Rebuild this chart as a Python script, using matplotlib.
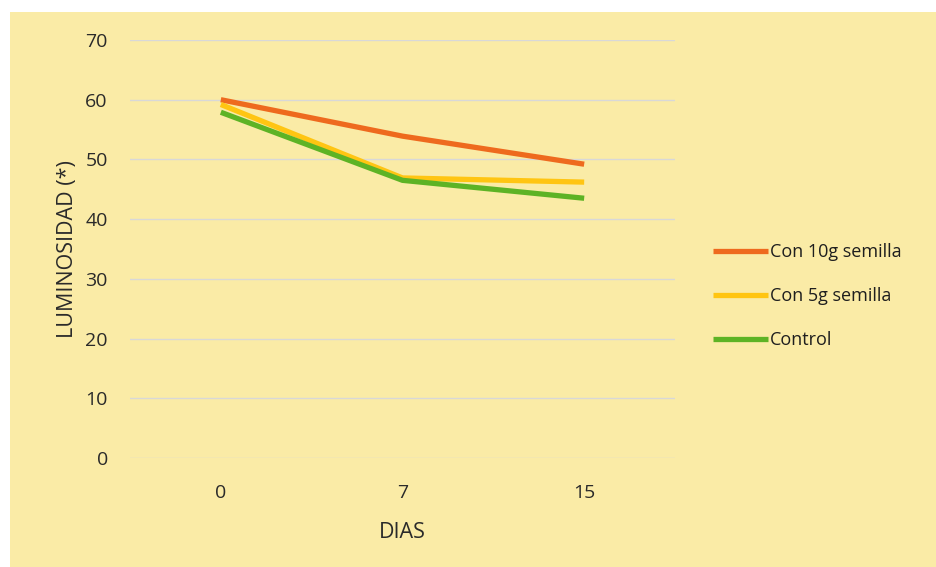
import matplotlib
matplotlib.use("Agg")
import matplotlib.pyplot as plt
from matplotlib.patches import Rectangle

days = ["0", "7", "15"]
con_10g = [60.0, 53.9, 49.2]
con_5g = [59.2, 46.9, 46.2]
control = [57.9, 46.5, 43.5]
series_names = ["Con 10g semilla", "Con 5g semilla", "Control"]
yticks = [0, 10, 20, 30, 40, 50, 60, 70]

plt.rcParams['font.family'] = ['Open Sans', 'DejaVu Sans']
txt = '#2a2a2a'

fig = plt.figure(figsize=(9.37, 5.67), dpi=100, facecolor='white')
bg = Rectangle((10/937, 0), 1, (567-12)/567, transform=fig.transFigure,
               facecolor='#FAEBA6', edgecolor='none', zorder=-10)
fig.patches.append(bg)

ax = fig.add_axes([130/937, (567-458)/567, 545/937, 418/567])
ax.set_facecolor('none')
x = list(range(len(days)))
ax.plot(x, con_10g, color='#EE6A1E', lw=3.8, label=series_names[0], solid_capstyle='butt')
ax.plot(x, con_5g, color='#FFC512', lw=3.8, label=series_names[1], solid_capstyle='butt')
ax.plot(x, control, color='#5DB325', lw=3.8, label=series_names[2], solid_capstyle='butt')

ax.set_xlim(-0.5, 2.5)
ax.set_ylim(0, 70)
ax.set_yticks(yticks)
ax.set_xticks(x)
ax.set_xticklabels(days)
ax.grid(axis='y', color='#D8D8D8', lw=1.0)
ax.set_axisbelow(True)
for s in ax.spines.values():
    s.set_visible(False)
ax.tick_params(length=0, labelsize=14, colors=txt)
ax.tick_params(axis='y', pad=16)
ax.tick_params(axis='x', pad=19)
ax.set_xlabel("DIAS", fontsize=15.5, color=txt, labelpad=14)
ax.set_ylabel("LUMINOSIDAD (*)", fontsize=15.5, color=txt, labelpad=5)

leg = ax.legend(loc='center left', bbox_to_anchor=((706-130)/545, (458-296)/418),
                frameon=False, fontsize=13, handlelength=3.05, handletextpad=0.1,
                labelspacing=1.45, labelcolor='#1e1e1e', borderaxespad=0)
fig.savefig("out.png", dpi=100, facecolor='white')
